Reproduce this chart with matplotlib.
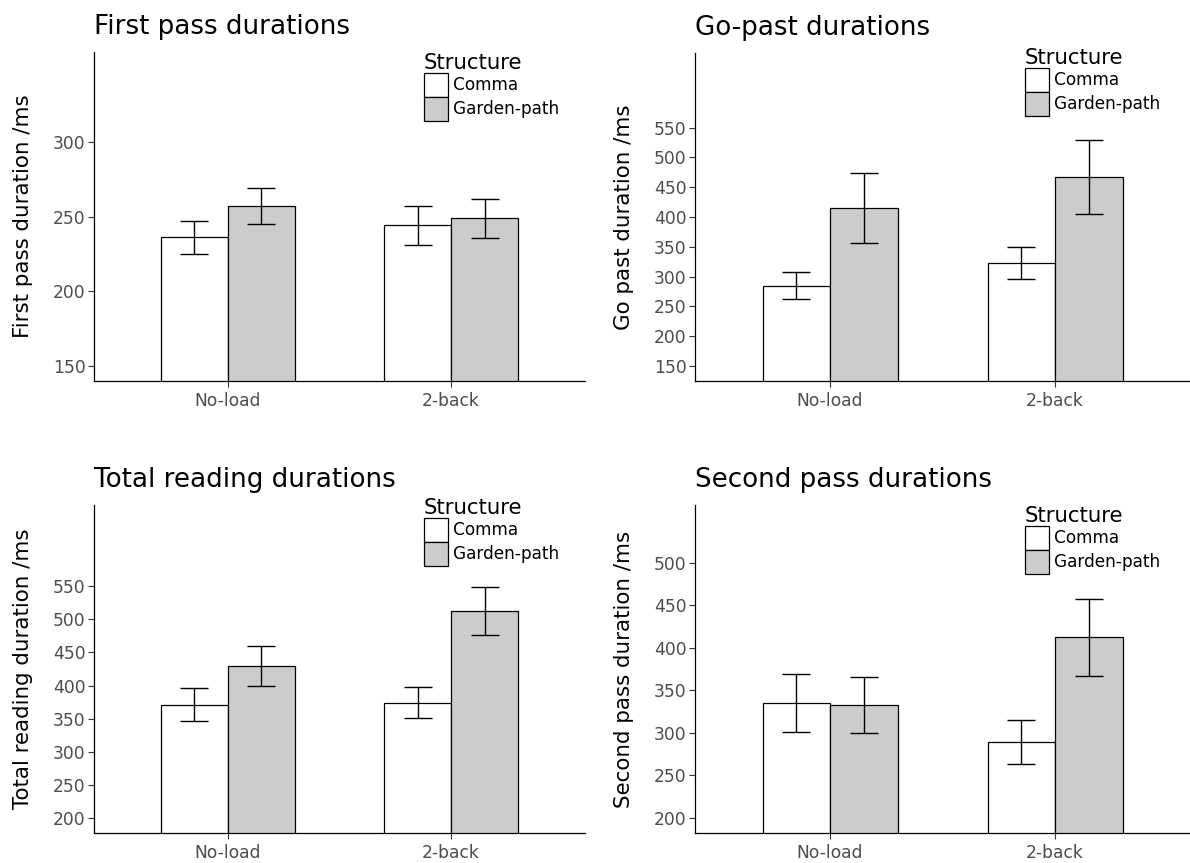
import matplotlib
matplotlib.use('Agg')
import matplotlib.pyplot as plt
from matplotlib.patches import Patch
import numpy as np

plt.rcParams['font.family'] = ['DejaVu Sans']

conditions = ['No-load', '2-back']
structures = ['Comma', 'Garden-path']

# first pass
fp_comma = [236, 244]
fp_comma_lo = [225, 231]
fp_comma_hi = [247, 257]
fp_gp = [257, 249]
fp_gp_lo = [245, 235.5]
fp_gp_hi = [269, 262]

# go-past
gp_comma = [285, 323]
gp_comma_lo = [263, 296]
gp_comma_hi = [307, 350]
gp_gp = [415, 467]
gp_gp_lo = [356, 405]
gp_gp_hi = [474, 529]

# total reading
tr_comma = [371, 374]
tr_comma_lo = [346, 351]
tr_comma_hi = [396, 397.5]
tr_gp = [430, 513]
tr_gp_lo = [400, 477]
tr_gp_hi = [459, 549]

# second pass
sp_comma = [335, 289]
sp_comma_lo = [301, 263]
sp_comma_hi = [369, 315]
sp_gp = [333, 412]
sp_gp_lo = [300, 367]
sp_gp_hi = [366, 457]

W, H = 1190, 863
fig = plt.figure(figsize=(W / 100, H / 100), dpi=100)

panels = [
    dict(rect=(94, 52, 585, 381), title='First pass durations', ylabel='First pass duration /ms',
         series=[(fp_comma, fp_comma_lo, fp_comma_hi), (fp_gp, fp_gp_lo, fp_gp_hi)],
         ylim=(140, 360), ticks=np.arange(150, 301, 50), leg=(424, 73)),
    dict(rect=(695, 53, 1190, 381), title='Go-past durations', ylabel='Go past duration /ms',
         series=[(gp_comma, gp_comma_lo, gp_comma_hi), (gp_gp, gp_gp_lo, gp_gp_hi)],
         ylim=(125, 675), ticks=np.arange(150, 551, 50), leg=(1025, 68)),
    dict(rect=(94, 505, 585, 833), title='Total reading durations', ylabel='Total reading duration /ms',
         series=[(tr_comma, tr_comma_lo, tr_comma_hi), (tr_gp, tr_gp_lo, tr_gp_hi)],
         ylim=(177.5, 672.5), ticks=np.arange(200, 551, 50), leg=(424, 518)),
    dict(rect=(695, 505, 1190, 833), title='Second pass durations', ylabel='Second pass duration /ms',
         series=[(sp_comma, sp_comma_lo, sp_comma_hi), (sp_gp, sp_gp_lo, sp_gp_hi)],
         ylim=(182.5, 567.5), ticks=np.arange(200, 501, 50), leg=(1025, 526)),
]

fills = ['white', '#cccccc']
bw = 0.3
x = np.arange(1, len(conditions) + 1)

for p in panels:
    l, t, r, b = p['rect']
    ax = fig.add_axes([l / W, 1 - b / H, (r - l) / W, (b - t) / H])
    hpx = b - t
    for i, (mean, lo, hi) in enumerate(p['series']):
        xi = x + (i - 0.5) * bw
        mean = np.array(mean)
        ax.bar(xi, mean, width=bw, color=fills[i], edgecolor='black', linewidth=0.9)
        ax.errorbar(xi, mean, yerr=[mean - np.array(lo), np.array(hi) - mean], fmt='none',
                    ecolor='black', elinewidth=1.0, capsize=10.4, capthick=1.0)
    ax.set_xlim(0.4, 2.6)
    ax.set_ylim(*p['ylim'])
    ax.set_yticks(p['ticks'])
    ax.set_xticks(x)
    ax.set_xticklabels(conditions)
    for s in ['top', 'right']:
        ax.spines[s].set_visible(False)
    for s in ['left', 'bottom']:
        ax.spines[s].set_linewidth(0.9)
    ax.tick_params(axis='both', colors='#333333', length=4, width=0.8, labelsize=12.3,
                   labelcolor='#4d4d4d')
    ax.tick_params(axis='y', pad=2)
    ax.tick_params(axis='x', pad=4)
    ax.set_ylabel(p['ylabel'], fontsize=15.4, color='black')
    ax.yaxis.set_label_coords(-61 / (r - l), 0.5)
    ax.text(0, 1 + 18 / hpx, p['title'], transform=ax.transAxes, fontsize=18.8,
            ha='left', va='baseline')
    handles = [Patch(facecolor=fills[i], edgecolor='black', linewidth=0.9) for i in range(2)]
    lx, ly = p['leg']
    leg = ax.legend(handles, structures, title='Structure', loc='upper left',
                    bbox_to_anchor=((lx - l) / (r - l), 1 - (ly - 20 - t) / hpx),
                    frameon=False, fontsize=12.2, title_fontsize=15.3, alignment='left',
                    handlelength=1.42, handleheight=1.8, handletextpad=0.3,
                    labelspacing=0, borderpad=0, borderaxespad=0)

fig.savefig('out.png', dpi=100)
